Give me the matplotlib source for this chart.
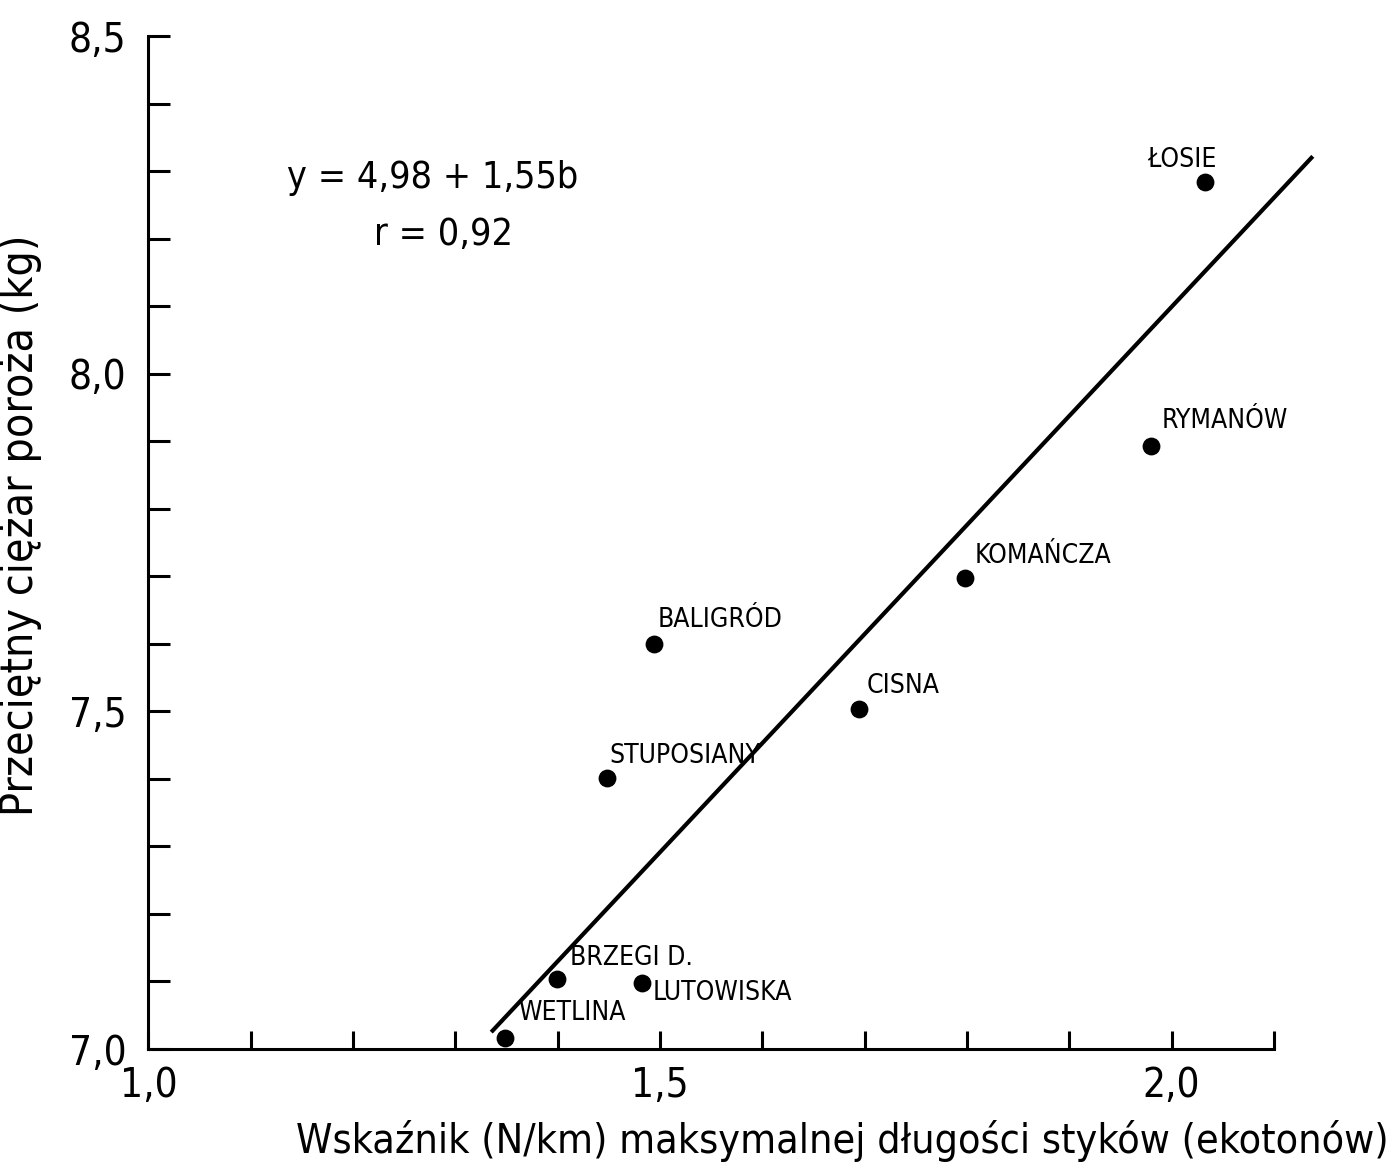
import matplotlib
matplotlib.use("Agg")
import matplotlib.pyplot as plt
from matplotlib.ticker import MultipleLocator, FuncFormatter

plt.rcParams['font.family'] = ['DejaVu Sans']
plt.rcParams['font.stretch'] = 'condensed'

# data
places = ["ŁOSIE", "RYMANÓW", "KOMAŃCZA", "CISNA", "BALIGRÓD",
          "STUPOSIANY", "BRZEGI D.", "LUTOWISKA", "WETLINA"]
index_n_km = [2.033, 1.980, 1.798, 1.694, 1.494, 1.448, 1.399, 1.482, 1.348]
antler_kg = [8.284, 7.893, 7.697, 7.503, 7.600, 7.401, 7.104, 7.098, 7.016]

# regression line as drawn
line_x = [1.335, 2.138]
line_y = [7.025, 8.322]

equation = "y = 4,98 + 1,55b"
corr = "r = 0,92"

# label offsets in pixels (left edge of text, centre height)
offsets = [(-58, 22), (10, 25), (10, 22), (8, 23), (4, 24),
           (3, 22), (13, 21), (11, -10), (14, 25)]

fig = plt.figure(figsize=(13.93, 11.67), dpi=100)
ax = fig.add_axes([0.1066, 0.1011, 0.808, 0.868])

ax.plot(line_x, line_y, color="black", lw=3, solid_capstyle="butt", clip_on=False)
ax.scatter(index_n_km, antler_kg, s=140, color="black", zorder=3, clip_on=False)

for name, x, y, off in zip(places, index_n_km, antler_kg, offsets):
    ax.annotate(name, (x, y), xytext=off, textcoords="offset pixels",
                ha="left", va="center", fontsize=19)

ax.set_xlim(1.0, 2.1001)
ax.set_ylim(7.0, 8.5001)

for s in ["top", "right"]:
    ax.spines[s].set_visible(False)
for s in ["left", "bottom"]:
    ax.spines[s].set_linewidth(2.2)

comma = FuncFormatter(lambda v, p: ("%.1f" % v).replace(".", ","))
ax.xaxis.set_major_locator(MultipleLocator(0.5))
ax.xaxis.set_minor_locator(MultipleLocator(0.1))
ax.yaxis.set_major_locator(MultipleLocator(0.5))
ax.yaxis.set_minor_locator(MultipleLocator(0.1))
ax.xaxis.set_major_formatter(comma)
ax.yaxis.set_major_formatter(comma)

ax.tick_params(axis="x", which="both", direction="in", length=13, width=2.2,
               labelsize=29, pad=12)
ax.tick_params(axis="y", which="both", direction="in", length=16, width=2.2,
               labelsize=29, pad=16)

ax.text(1.278, 8.29, equation, ha="center", va="center", fontsize=27)
ax.text(1.288, 8.205, corr, ha="center", va="center", fontsize=27)

ax.set_ylabel("Przeciętny ciężar poroża (kg)", fontsize=32)
ax.yaxis.set_label_coords(-0.095, 0.517)
fig.text(0.997, 0.004, "Wskaźnik (N/km) maksymalnej długości styków (ekotonów)",
         ha="right", va="bottom", fontsize=29.5)

fig.savefig("out.png", dpi=100)
